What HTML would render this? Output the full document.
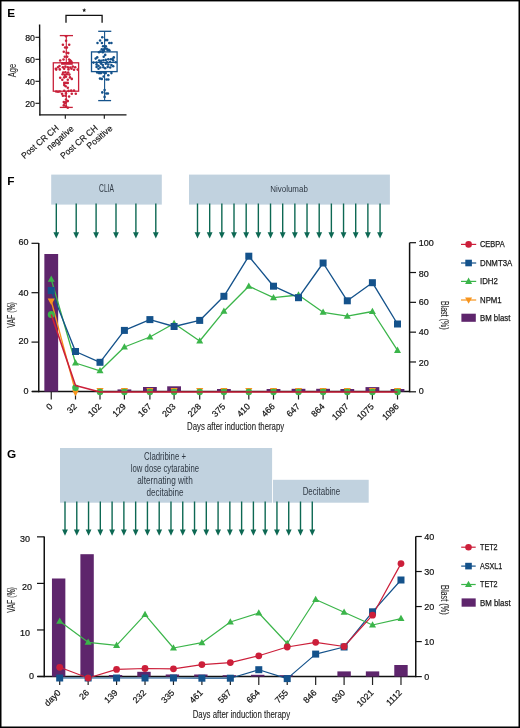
<!DOCTYPE html>
<html><head><meta charset="utf-8"><style>
html,body{margin:0;padding:0;background:#fff;}
svg{display:block;will-change:transform;}
text{font-family:"Liberation Sans", sans-serif;}
</style></head><body>
<svg width="520" height="728" viewBox="0 0 520 728">
<rect x="0" y="0" width="520" height="728" fill="#fff"/>
<text x="7.30" y="17.10" font-size="11.8" text-anchor="start" fill="#000" font-weight="bold" >E</text>
<path d="M66.0,22.7 V15.4 H102.1 V22.7" fill="none" stroke="#111" stroke-width="1.3"/>
<polygon points="84.20,8.10 84.76,9.44 86.20,9.55 85.10,10.49 85.43,11.90 84.20,11.14 82.97,11.90 83.30,10.49 82.20,9.55 83.64,9.44" fill="#111"/>
<line x1="39.60" y1="24.50" x2="39.90" y2="115.50" stroke="#111" stroke-width="1.4" />
<line x1="39.20" y1="114.90" x2="126.50" y2="114.90" stroke="#111" stroke-width="1.4" />
<line x1="35.40" y1="37.30" x2="39.60" y2="37.30" stroke="#111" stroke-width="1.1" />
<text x="35.00" y="40.50" font-size="8.8" text-anchor="end" fill="#111" stroke="#111" stroke-width="0.2" >80</text>
<line x1="35.40" y1="59.30" x2="39.60" y2="59.30" stroke="#111" stroke-width="1.1" />
<text x="35.00" y="62.50" font-size="8.8" text-anchor="end" fill="#111" stroke="#111" stroke-width="0.2" >60</text>
<line x1="35.40" y1="81.30" x2="39.60" y2="81.30" stroke="#111" stroke-width="1.1" />
<text x="35.00" y="84.50" font-size="8.8" text-anchor="end" fill="#111" stroke="#111" stroke-width="0.2" >40</text>
<line x1="35.40" y1="103.30" x2="39.60" y2="103.30" stroke="#111" stroke-width="1.1" />
<text x="35.00" y="106.50" font-size="8.8" text-anchor="end" fill="#111" stroke="#111" stroke-width="0.2" >20</text>
<text x="0.00" y="0.00" font-size="10.5" text-anchor="middle" fill="#2a2a2a" stroke="#2a2a2a" stroke-width="0.12" textLength="13.40" lengthAdjust="spacingAndGlyphs" transform="translate(16.3,70.6) rotate(-90)">Age</text>
<line x1="65.30" y1="114.90" x2="65.30" y2="118.80" stroke="#111" stroke-width="1.1" />
<line x1="104.30" y1="114.90" x2="104.30" y2="118.80" stroke="#111" stroke-width="1.1" />
<rect x="53.3" y="62.8" width="25.3" height="28.4" fill="none" stroke="#c8203a" stroke-width="1.3"/>
<line x1="66.30" y1="35.60" x2="66.30" y2="62.80" stroke="#c8203a" stroke-width="1.1" />
<line x1="66.30" y1="91.20" x2="66.30" y2="107.40" stroke="#c8203a" stroke-width="1.1" />
<line x1="59.80" y1="35.60" x2="73.00" y2="35.60" stroke="#c8203a" stroke-width="1.3" />
<line x1="59.80" y1="107.40" x2="72.80" y2="107.40" stroke="#c8203a" stroke-width="1.3" />
<rect x="91.5" y="51.9" width="25.6" height="19.7" fill="none" stroke="#14528b" stroke-width="1.3"/>
<line x1="104.60" y1="31.10" x2="104.60" y2="51.90" stroke="#14528b" stroke-width="1.1" />
<line x1="104.60" y1="71.60" x2="104.60" y2="100.60" stroke="#14528b" stroke-width="1.1" />
<line x1="98.20" y1="31.30" x2="111.30" y2="31.30" stroke="#14528b" stroke-width="1.3" />
<line x1="98.20" y1="100.60" x2="111.10" y2="100.60" stroke="#14528b" stroke-width="1.3" />
<line x1="91.50" y1="62.40" x2="117.10" y2="62.40" stroke="#14528b" stroke-width="1.2" />
<circle cx="66.10" cy="36.20" r="1.28" fill="#c8203a"/>
<circle cx="66.10" cy="40.80" r="1.28" fill="#c8203a"/>
<circle cx="62.90" cy="44.80" r="1.28" fill="#c8203a"/>
<circle cx="69.20" cy="44.80" r="1.28" fill="#c8203a"/>
<circle cx="65.10" cy="47.50" r="1.28" fill="#c8203a"/>
<circle cx="66.90" cy="47.50" r="1.28" fill="#c8203a"/>
<circle cx="63.80" cy="51.80" r="1.28" fill="#c8203a"/>
<circle cx="66.60" cy="52.80" r="1.28" fill="#c8203a"/>
<circle cx="68.30" cy="53.10" r="1.28" fill="#c8203a"/>
<circle cx="64.80" cy="56.80" r="1.28" fill="#c8203a"/>
<circle cx="67.20" cy="56.80" r="1.28" fill="#c8203a"/>
<circle cx="60.20" cy="60.50" r="1.28" fill="#c8203a"/>
<circle cx="63.50" cy="59.50" r="1.28" fill="#c8203a"/>
<circle cx="69.10" cy="59.50" r="1.28" fill="#c8203a"/>
<circle cx="70.20" cy="60.60" r="1.28" fill="#c8203a"/>
<circle cx="71.20" cy="61.60" r="1.28" fill="#c8203a"/>
<circle cx="69.80" cy="61.80" r="1.28" fill="#c8203a"/>
<circle cx="58.00" cy="67.20" r="1.28" fill="#c8203a"/>
<circle cx="59.50" cy="66.00" r="1.28" fill="#c8203a"/>
<circle cx="55.80" cy="68.80" r="1.28" fill="#c8203a"/>
<circle cx="62.90" cy="67.30" r="1.28" fill="#c8203a"/>
<circle cx="65.40" cy="66.60" r="1.28" fill="#c8203a"/>
<circle cx="67.80" cy="67.30" r="1.28" fill="#c8203a"/>
<circle cx="70.30" cy="67.50" r="1.28" fill="#c8203a"/>
<circle cx="72.80" cy="66.60" r="1.28" fill="#c8203a"/>
<circle cx="75.20" cy="67.20" r="1.28" fill="#c8203a"/>
<circle cx="56.20" cy="69.60" r="1.28" fill="#c8203a"/>
<circle cx="59.80" cy="69.40" r="1.28" fill="#c8203a"/>
<circle cx="64.20" cy="68.80" r="1.28" fill="#c8203a"/>
<circle cx="68.50" cy="69.40" r="1.28" fill="#c8203a"/>
<circle cx="71.50" cy="68.80" r="1.28" fill="#c8203a"/>
<circle cx="74.00" cy="69.80" r="1.28" fill="#c8203a"/>
<circle cx="77.70" cy="69.60" r="1.28" fill="#c8203a"/>
<circle cx="63.20" cy="72.50" r="1.28" fill="#c8203a"/>
<circle cx="65.40" cy="72.20" r="1.28" fill="#c8203a"/>
<circle cx="68.20" cy="72.50" r="1.28" fill="#c8203a"/>
<circle cx="62.60" cy="74.30" r="1.28" fill="#c8203a"/>
<circle cx="64.80" cy="74.90" r="1.28" fill="#c8203a"/>
<circle cx="66.90" cy="74.30" r="1.28" fill="#c8203a"/>
<circle cx="69.40" cy="74.60" r="1.28" fill="#c8203a"/>
<circle cx="60.20" cy="77.70" r="1.28" fill="#c8203a"/>
<circle cx="64.20" cy="77.40" r="1.28" fill="#c8203a"/>
<circle cx="66.00" cy="76.80" r="1.28" fill="#c8203a"/>
<circle cx="70.00" cy="77.40" r="1.28" fill="#c8203a"/>
<circle cx="71.80" cy="78.90" r="1.28" fill="#c8203a"/>
<circle cx="62.30" cy="79.80" r="1.28" fill="#c8203a"/>
<circle cx="67.80" cy="79.80" r="1.28" fill="#c8203a"/>
<circle cx="64.20" cy="82.90" r="1.28" fill="#c8203a"/>
<circle cx="66.00" cy="82.90" r="1.28" fill="#c8203a"/>
<circle cx="67.80" cy="82.90" r="1.28" fill="#c8203a"/>
<circle cx="64.20" cy="85.10" r="1.28" fill="#c8203a"/>
<circle cx="65.70" cy="86.30" r="1.28" fill="#c8203a"/>
<circle cx="67.80" cy="87.80" r="1.28" fill="#c8203a"/>
<circle cx="56.20" cy="91.50" r="1.28" fill="#c8203a"/>
<circle cx="58.00" cy="91.80" r="1.28" fill="#c8203a"/>
<circle cx="59.80" cy="91.50" r="1.28" fill="#c8203a"/>
<circle cx="64.20" cy="90.90" r="1.28" fill="#c8203a"/>
<circle cx="68.50" cy="90.90" r="1.28" fill="#c8203a"/>
<circle cx="71.20" cy="90.60" r="1.28" fill="#c8203a"/>
<circle cx="74.00" cy="90.60" r="1.28" fill="#c8203a"/>
<circle cx="62.00" cy="93.70" r="1.28" fill="#c8203a"/>
<circle cx="66.00" cy="93.40" r="1.28" fill="#c8203a"/>
<circle cx="71.80" cy="93.70" r="1.28" fill="#c8203a"/>
<circle cx="75.80" cy="93.70" r="1.28" fill="#c8203a"/>
<circle cx="62.90" cy="95.80" r="1.28" fill="#c8203a"/>
<circle cx="65.40" cy="95.80" r="1.28" fill="#c8203a"/>
<circle cx="69.10" cy="96.50" r="1.28" fill="#c8203a"/>
<circle cx="66.00" cy="99.50" r="1.28" fill="#c8203a"/>
<circle cx="67.80" cy="101.10" r="1.28" fill="#c8203a"/>
<circle cx="63.80" cy="102.00" r="1.28" fill="#c8203a"/>
<circle cx="65.70" cy="102.30" r="1.28" fill="#c8203a"/>
<circle cx="64.80" cy="103.50" r="1.28" fill="#c8203a"/>
<circle cx="63.80" cy="105.40" r="1.28" fill="#c8203a"/>
<circle cx="66.00" cy="106.30" r="1.28" fill="#c8203a"/>
<circle cx="67.80" cy="107.80" r="1.28" fill="#c8203a"/>
<rect x="61.1" y="62" width="11.7" height="2.8" fill="#c8203a"/>
<polygon points="68.3,62 70.2,58.9 73.2,62.4" fill="#c8203a"/>
<circle cx="102.30" cy="37.20" r="1.28" fill="#14528b"/>
<circle cx="100.10" cy="40.50" r="1.28" fill="#14528b"/>
<circle cx="105.80" cy="40.10" r="1.28" fill="#14528b"/>
<circle cx="107.20" cy="40.10" r="1.28" fill="#14528b"/>
<circle cx="97.50" cy="43.00" r="1.28" fill="#14528b"/>
<circle cx="101.90" cy="43.00" r="1.28" fill="#14528b"/>
<circle cx="109.30" cy="43.00" r="1.28" fill="#14528b"/>
<circle cx="111.40" cy="43.00" r="1.28" fill="#14528b"/>
<circle cx="103.10" cy="46.20" r="1.28" fill="#14528b"/>
<circle cx="105.80" cy="46.20" r="1.28" fill="#14528b"/>
<circle cx="101.80" cy="49.30" r="1.28" fill="#14528b"/>
<circle cx="104.10" cy="49.30" r="1.28" fill="#14528b"/>
<circle cx="106.80" cy="48.80" r="1.28" fill="#14528b"/>
<circle cx="108.60" cy="49.80" r="1.28" fill="#14528b"/>
<circle cx="100.30" cy="51.50" r="1.28" fill="#14528b"/>
<circle cx="102.80" cy="50.40" r="1.28" fill="#14528b"/>
<circle cx="105.20" cy="48.20" r="1.28" fill="#14528b"/>
<circle cx="107.70" cy="50.30" r="1.28" fill="#14528b"/>
<circle cx="109.50" cy="50.60" r="1.28" fill="#14528b"/>
<circle cx="99.00" cy="52.20" r="1.28" fill="#14528b"/>
<circle cx="102.80" cy="52.20" r="1.28" fill="#14528b"/>
<circle cx="105.20" cy="54.90" r="1.28" fill="#14528b"/>
<circle cx="103.70" cy="56.80" r="1.28" fill="#14528b"/>
<circle cx="97.20" cy="57.40" r="1.28" fill="#14528b"/>
<circle cx="95.70" cy="58.60" r="1.28" fill="#14528b"/>
<circle cx="113.80" cy="57.40" r="1.28" fill="#14528b"/>
<circle cx="112.60" cy="58.90" r="1.28" fill="#14528b"/>
<circle cx="99.10" cy="60.50" r="1.28" fill="#14528b"/>
<circle cx="101.20" cy="60.80" r="1.28" fill="#14528b"/>
<circle cx="103.40" cy="60.20" r="1.28" fill="#14528b"/>
<circle cx="105.80" cy="59.90" r="1.28" fill="#14528b"/>
<circle cx="108.30" cy="59.20" r="1.28" fill="#14528b"/>
<circle cx="110.80" cy="59.20" r="1.28" fill="#14528b"/>
<circle cx="113.20" cy="60.50" r="1.28" fill="#14528b"/>
<circle cx="93.50" cy="62.60" r="1.28" fill="#14528b"/>
<circle cx="115.70" cy="62.30" r="1.28" fill="#14528b"/>
<circle cx="96.60" cy="62.60" r="1.28" fill="#14528b"/>
<circle cx="100.00" cy="62.20" r="1.28" fill="#14528b"/>
<circle cx="107.00" cy="62.40" r="1.28" fill="#14528b"/>
<circle cx="110.00" cy="62.10" r="1.28" fill="#14528b"/>
<circle cx="96.60" cy="64.50" r="1.28" fill="#14528b"/>
<circle cx="98.50" cy="65.70" r="1.28" fill="#14528b"/>
<circle cx="101.20" cy="63.80" r="1.28" fill="#14528b"/>
<circle cx="102.80" cy="65.10" r="1.28" fill="#14528b"/>
<circle cx="105.80" cy="63.80" r="1.28" fill="#14528b"/>
<circle cx="108.30" cy="64.50" r="1.28" fill="#14528b"/>
<circle cx="111.40" cy="65.10" r="1.28" fill="#14528b"/>
<circle cx="113.20" cy="66.30" r="1.28" fill="#14528b"/>
<circle cx="110.20" cy="67.50" r="1.28" fill="#14528b"/>
<circle cx="107.70" cy="66.90" r="1.28" fill="#14528b"/>
<circle cx="105.20" cy="68.20" r="1.28" fill="#14528b"/>
<circle cx="103.40" cy="67.30" r="1.28" fill="#14528b"/>
<circle cx="100.30" cy="67.50" r="1.28" fill="#14528b"/>
<circle cx="98.50" cy="68.80" r="1.28" fill="#14528b"/>
<circle cx="96.60" cy="66.90" r="1.28" fill="#14528b"/>
<circle cx="97.20" cy="72.50" r="1.28" fill="#14528b"/>
<circle cx="99.10" cy="73.10" r="1.28" fill="#14528b"/>
<circle cx="100.90" cy="73.10" r="1.28" fill="#14528b"/>
<circle cx="103.40" cy="72.50" r="1.28" fill="#14528b"/>
<circle cx="105.80" cy="73.10" r="1.28" fill="#14528b"/>
<circle cx="108.30" cy="75.20" r="1.28" fill="#14528b"/>
<circle cx="111.40" cy="73.10" r="1.28" fill="#14528b"/>
<circle cx="103.70" cy="76.50" r="1.28" fill="#14528b"/>
<circle cx="100.00" cy="78.60" r="1.28" fill="#14528b"/>
<circle cx="101.80" cy="78.90" r="1.28" fill="#14528b"/>
<circle cx="106.50" cy="79.50" r="1.28" fill="#14528b"/>
<circle cx="108.30" cy="79.50" r="1.28" fill="#14528b"/>
<circle cx="104.60" cy="90.10" r="1.28" fill="#14528b"/>
<circle cx="102.30" cy="92.40" r="1.28" fill="#14528b"/>
<circle cx="106.30" cy="93.50" r="1.28" fill="#14528b"/>
<circle cx="107.90" cy="93.50" r="1.28" fill="#14528b"/>
<circle cx="104.60" cy="96.90" r="1.28" fill="#14528b"/>
<text x="0" y="0" font-size="8.8" text-anchor="end" fill="#111" transform="translate(59.30,129.00) rotate(-41)" stroke="#111" stroke-width="0.14" textLength="46.20" lengthAdjust="spacingAndGlyphs">Post CR CH</text>
<text x="0" y="0" font-size="8.8" text-anchor="end" fill="#111" transform="translate(74.40,129.60) rotate(-41)" stroke="#111" stroke-width="0.14" textLength="32.60" lengthAdjust="spacingAndGlyphs">negative</text>
<text x="0" y="0" font-size="8.8" text-anchor="end" fill="#111" transform="translate(98.30,129.00) rotate(-41)" stroke="#111" stroke-width="0.14" textLength="46.20" lengthAdjust="spacingAndGlyphs">Post CR CH</text>
<text x="0" y="0" font-size="8.8" text-anchor="end" fill="#111" transform="translate(113.10,129.20) rotate(-41)" stroke="#111" stroke-width="0.14">Positive</text>
<text x="7.30" y="184.90" font-size="11.8" text-anchor="start" fill="#000" font-weight="bold" >F</text>
<rect x="51.2" y="174.6" width="110.6" height="30" fill="#c1d2df"/>
<rect x="189" y="174.6" width="200.9" height="30" fill="#c1d2df"/>
<text x="106.50" y="192.00" font-size="10.6" text-anchor="middle" fill="#2f3944" textLength="14.80" lengthAdjust="spacingAndGlyphs" >CLIA</text>
<text x="289.05" y="191.60" font-size="9.9" text-anchor="middle" fill="#2f3944" textLength="37.50" lengthAdjust="spacingAndGlyphs" >Nivolumab</text>
<line x1="56.30" y1="203.50" x2="56.30" y2="234.50" stroke="#0d6853" stroke-width="1.4" />
<polygon points="53.40,232.20 59.20,232.20 56.30,238.50" fill="#0d6853"/>
<line x1="76.20" y1="203.50" x2="76.20" y2="234.50" stroke="#0d6853" stroke-width="1.4" />
<polygon points="73.30,232.20 79.10,232.20 76.20,238.50" fill="#0d6853"/>
<line x1="96.10" y1="203.50" x2="96.10" y2="234.50" stroke="#0d6853" stroke-width="1.4" />
<polygon points="93.20,232.20 99.00,232.20 96.10,238.50" fill="#0d6853"/>
<line x1="116.00" y1="203.50" x2="116.00" y2="234.50" stroke="#0d6853" stroke-width="1.4" />
<polygon points="113.10,232.20 118.90,232.20 116.00,238.50" fill="#0d6853"/>
<line x1="135.90" y1="203.50" x2="135.90" y2="234.50" stroke="#0d6853" stroke-width="1.4" />
<polygon points="133.00,232.20 138.80,232.20 135.90,238.50" fill="#0d6853"/>
<line x1="155.80" y1="203.50" x2="155.80" y2="234.50" stroke="#0d6853" stroke-width="1.4" />
<polygon points="152.90,232.20 158.70,232.20 155.80,238.50" fill="#0d6853"/>
<line x1="197.50" y1="203.50" x2="197.50" y2="234.50" stroke="#0d6853" stroke-width="1.4" />
<polygon points="194.60,232.20 200.40,232.20 197.50,238.50" fill="#0d6853"/>
<line x1="209.67" y1="203.50" x2="209.67" y2="234.50" stroke="#0d6853" stroke-width="1.4" />
<polygon points="206.77,232.20 212.57,232.20 209.67,238.50" fill="#0d6853"/>
<line x1="221.84" y1="203.50" x2="221.84" y2="234.50" stroke="#0d6853" stroke-width="1.4" />
<polygon points="218.94,232.20 224.74,232.20 221.84,238.50" fill="#0d6853"/>
<line x1="234.01" y1="203.50" x2="234.01" y2="234.50" stroke="#0d6853" stroke-width="1.4" />
<polygon points="231.11,232.20 236.91,232.20 234.01,238.50" fill="#0d6853"/>
<line x1="246.18" y1="203.50" x2="246.18" y2="234.50" stroke="#0d6853" stroke-width="1.4" />
<polygon points="243.28,232.20 249.08,232.20 246.18,238.50" fill="#0d6853"/>
<line x1="258.35" y1="203.50" x2="258.35" y2="234.50" stroke="#0d6853" stroke-width="1.4" />
<polygon points="255.45,232.20 261.25,232.20 258.35,238.50" fill="#0d6853"/>
<line x1="270.52" y1="203.50" x2="270.52" y2="234.50" stroke="#0d6853" stroke-width="1.4" />
<polygon points="267.62,232.20 273.42,232.20 270.52,238.50" fill="#0d6853"/>
<line x1="282.69" y1="203.50" x2="282.69" y2="234.50" stroke="#0d6853" stroke-width="1.4" />
<polygon points="279.79,232.20 285.59,232.20 282.69,238.50" fill="#0d6853"/>
<line x1="294.86" y1="203.50" x2="294.86" y2="234.50" stroke="#0d6853" stroke-width="1.4" />
<polygon points="291.96,232.20 297.76,232.20 294.86,238.50" fill="#0d6853"/>
<line x1="307.03" y1="203.50" x2="307.03" y2="234.50" stroke="#0d6853" stroke-width="1.4" />
<polygon points="304.13,232.20 309.93,232.20 307.03,238.50" fill="#0d6853"/>
<line x1="319.20" y1="203.50" x2="319.20" y2="234.50" stroke="#0d6853" stroke-width="1.4" />
<polygon points="316.30,232.20 322.10,232.20 319.20,238.50" fill="#0d6853"/>
<line x1="331.37" y1="203.50" x2="331.37" y2="234.50" stroke="#0d6853" stroke-width="1.4" />
<polygon points="328.47,232.20 334.27,232.20 331.37,238.50" fill="#0d6853"/>
<line x1="343.54" y1="203.50" x2="343.54" y2="234.50" stroke="#0d6853" stroke-width="1.4" />
<polygon points="340.64,232.20 346.44,232.20 343.54,238.50" fill="#0d6853"/>
<line x1="355.71" y1="203.50" x2="355.71" y2="234.50" stroke="#0d6853" stroke-width="1.4" />
<polygon points="352.81,232.20 358.61,232.20 355.71,238.50" fill="#0d6853"/>
<line x1="367.88" y1="203.50" x2="367.88" y2="234.50" stroke="#0d6853" stroke-width="1.4" />
<polygon points="364.98,232.20 370.78,232.20 367.88,238.50" fill="#0d6853"/>
<line x1="380.05" y1="203.50" x2="380.05" y2="234.50" stroke="#0d6853" stroke-width="1.4" />
<polygon points="377.15,232.20 382.95,232.20 380.05,238.50" fill="#0d6853"/>
<line x1="38.75" y1="242.90" x2="38.75" y2="392.30" stroke="#111" stroke-width="1.5" />
<line x1="32.00" y1="391.60" x2="409.60" y2="391.60" stroke="#111" stroke-width="1.5" />
<line x1="409.60" y1="242.70" x2="409.60" y2="392.30" stroke="#111" stroke-width="1.5" />
<line x1="31.50" y1="243.30" x2="38.75" y2="243.30" stroke="#111" stroke-width="1.2" />
<text x="28.40" y="245.10" font-size="9" text-anchor="end" fill="#111" stroke="#111" stroke-width="0.2" >60</text>
<line x1="31.50" y1="292.70" x2="38.75" y2="292.70" stroke="#111" stroke-width="1.2" />
<text x="28.40" y="295.70" font-size="9" text-anchor="end" fill="#111" stroke="#111" stroke-width="0.2" >40</text>
<line x1="31.50" y1="342.10" x2="38.75" y2="342.10" stroke="#111" stroke-width="1.2" />
<text x="28.40" y="343.80" font-size="9" text-anchor="end" fill="#111" stroke="#111" stroke-width="0.2" >20</text>
<line x1="31.50" y1="391.50" x2="38.75" y2="391.50" stroke="#111" stroke-width="1.2" />
<text x="28.40" y="393.80" font-size="9" text-anchor="end" fill="#111" stroke="#111" stroke-width="0.2" >0</text>
<line x1="409.60" y1="242.70" x2="416.00" y2="242.70" stroke="#111" stroke-width="1.2" />
<text x="418.80" y="245.60" font-size="9" text-anchor="start" fill="#111" stroke="#111" stroke-width="0.2" >100</text>
<line x1="409.60" y1="272.52" x2="416.00" y2="272.52" stroke="#111" stroke-width="1.2" />
<text x="418.80" y="276.80" font-size="9" text-anchor="start" fill="#111" stroke="#111" stroke-width="0.2" >80</text>
<line x1="409.60" y1="302.34" x2="416.00" y2="302.34" stroke="#111" stroke-width="1.2" />
<text x="418.80" y="305.30" font-size="9" text-anchor="start" fill="#111" stroke="#111" stroke-width="0.2" >60</text>
<line x1="409.60" y1="332.16" x2="416.00" y2="332.16" stroke="#111" stroke-width="1.2" />
<text x="418.80" y="335.00" font-size="9" text-anchor="start" fill="#111" stroke="#111" stroke-width="0.2" >40</text>
<line x1="409.60" y1="361.98" x2="416.00" y2="361.98" stroke="#111" stroke-width="1.2" />
<text x="418.80" y="366.10" font-size="9" text-anchor="start" fill="#111" stroke="#111" stroke-width="0.2" >20</text>
<line x1="409.60" y1="391.80" x2="416.00" y2="391.80" stroke="#111" stroke-width="1.2" />
<text x="418.80" y="394.40" font-size="9" text-anchor="start" fill="#111" stroke="#111" stroke-width="0.2" >0</text>
<text x="0.00" y="0.00" font-size="10" text-anchor="middle" fill="#2a2a2a" stroke="#2a2a2a" stroke-width="0.12" textLength="25.60" lengthAdjust="spacingAndGlyphs" transform="translate(15.2,314.9) rotate(-90)">VAF (%)</text>
<text x="0.00" y="0.00" font-size="10.2" text-anchor="middle" fill="#2a2a2a" stroke="#2a2a2a" stroke-width="0.12" textLength="28.60" lengthAdjust="spacingAndGlyphs" transform="translate(441.1,315.2) rotate(90)">Blast (%)</text>
<line x1="51.25" y1="392.00" x2="51.25" y2="399.50" stroke="#222" stroke-width="1.2" />
<text x="0" y="0" font-size="8.8" text-anchor="end" fill="#111" transform="translate(53.25,407.00) rotate(-45)" stroke="#111" stroke-width="0.2">0</text>
<line x1="75.50" y1="392.00" x2="75.50" y2="399.50" stroke="#222" stroke-width="1.2" />
<text x="0" y="0" font-size="8.8" text-anchor="end" fill="#111" transform="translate(77.50,407.00) rotate(-45)" stroke="#111" stroke-width="0.2">32</text>
<line x1="100.00" y1="392.00" x2="100.00" y2="399.50" stroke="#222" stroke-width="1.2" />
<text x="0" y="0" font-size="8.8" text-anchor="end" fill="#111" transform="translate(102.00,407.00) rotate(-45)" stroke="#111" stroke-width="0.2">102</text>
<line x1="124.40" y1="392.00" x2="124.40" y2="399.50" stroke="#222" stroke-width="1.2" />
<text x="0" y="0" font-size="8.8" text-anchor="end" fill="#111" transform="translate(126.40,407.00) rotate(-45)" stroke="#111" stroke-width="0.2">129</text>
<line x1="149.90" y1="392.00" x2="149.90" y2="399.50" stroke="#222" stroke-width="1.2" />
<text x="0" y="0" font-size="8.8" text-anchor="end" fill="#111" transform="translate(151.90,407.00) rotate(-45)" stroke="#111" stroke-width="0.2">167</text>
<line x1="174.10" y1="392.00" x2="174.10" y2="399.50" stroke="#222" stroke-width="1.2" />
<text x="0" y="0" font-size="8.8" text-anchor="end" fill="#111" transform="translate(176.10,407.00) rotate(-45)" stroke="#111" stroke-width="0.2">203</text>
<line x1="199.70" y1="392.00" x2="199.70" y2="399.50" stroke="#222" stroke-width="1.2" />
<text x="0" y="0" font-size="8.8" text-anchor="end" fill="#111" transform="translate(201.70,407.00) rotate(-45)" stroke="#111" stroke-width="0.2">228</text>
<line x1="223.90" y1="392.00" x2="223.90" y2="399.50" stroke="#222" stroke-width="1.2" />
<text x="0" y="0" font-size="8.8" text-anchor="end" fill="#111" transform="translate(225.90,407.00) rotate(-45)" stroke="#111" stroke-width="0.2">375</text>
<line x1="248.80" y1="392.00" x2="248.80" y2="399.50" stroke="#222" stroke-width="1.2" />
<text x="0" y="0" font-size="8.8" text-anchor="end" fill="#111" transform="translate(250.80,407.00) rotate(-45)" stroke="#111" stroke-width="0.2">410</text>
<line x1="273.50" y1="392.00" x2="273.50" y2="399.50" stroke="#222" stroke-width="1.2" />
<text x="0" y="0" font-size="8.8" text-anchor="end" fill="#111" transform="translate(275.50,407.00) rotate(-45)" stroke="#111" stroke-width="0.2">466</text>
<line x1="298.50" y1="392.00" x2="298.50" y2="399.50" stroke="#222" stroke-width="1.2" />
<text x="0" y="0" font-size="8.8" text-anchor="end" fill="#111" transform="translate(300.50,407.00) rotate(-45)" stroke="#111" stroke-width="0.2">647</text>
<line x1="323.10" y1="392.00" x2="323.10" y2="399.50" stroke="#222" stroke-width="1.2" />
<text x="0" y="0" font-size="8.8" text-anchor="end" fill="#111" transform="translate(325.10,407.00) rotate(-45)" stroke="#111" stroke-width="0.2">864</text>
<line x1="347.30" y1="392.00" x2="347.30" y2="399.50" stroke="#222" stroke-width="1.2" />
<text x="0" y="0" font-size="8.8" text-anchor="end" fill="#111" transform="translate(349.30,407.00) rotate(-45)" stroke="#111" stroke-width="0.2">1007</text>
<line x1="372.40" y1="392.00" x2="372.40" y2="399.50" stroke="#222" stroke-width="1.2" />
<text x="0" y="0" font-size="8.8" text-anchor="end" fill="#111" transform="translate(374.40,407.00) rotate(-45)" stroke="#111" stroke-width="0.2">1075</text>
<line x1="397.50" y1="392.00" x2="397.50" y2="399.50" stroke="#222" stroke-width="1.2" />
<text x="0" y="0" font-size="8.8" text-anchor="end" fill="#111" transform="translate(399.50,407.00) rotate(-45)" stroke="#111" stroke-width="0.2">1096</text>
<text x="235.60" y="429.80" font-size="10" text-anchor="middle" fill="#222" stroke="#222" stroke-width="0.1" textLength="97.20" lengthAdjust="spacingAndGlyphs" >Days after induction therapy</text>
<rect x="44.35" y="254.00" width="13.8" height="137.60" fill="#5e256c"/>
<rect x="117.50" y="389.40" width="13.8" height="2.20" fill="#5e256c"/>
<rect x="143.00" y="387.00" width="13.8" height="4.60" fill="#5e256c"/>
<rect x="167.20" y="386.30" width="13.8" height="5.30" fill="#5e256c"/>
<rect x="217.00" y="389.00" width="13.8" height="2.60" fill="#5e256c"/>
<rect x="266.60" y="389.00" width="13.8" height="2.60" fill="#5e256c"/>
<rect x="291.60" y="388.80" width="13.8" height="2.80" fill="#5e256c"/>
<rect x="316.20" y="388.80" width="13.8" height="2.80" fill="#5e256c"/>
<rect x="340.40" y="389.00" width="13.8" height="2.60" fill="#5e256c"/>
<rect x="365.50" y="387.10" width="13.8" height="4.50" fill="#5e256c"/>
<rect x="390.60" y="389.00" width="13.8" height="2.60" fill="#5e256c"/>
<polygon points="100.00,394.59 96.40,388.11 103.60,388.11" fill="#f7941d"/>
<circle cx="100.00" cy="392.00" r="3.2" fill="#3bb54a"/>
<polygon points="124.40,394.59 120.80,388.11 128.00,388.11" fill="#f7941d"/>
<circle cx="124.40" cy="392.00" r="3.2" fill="#3bb54a"/>
<polygon points="149.90,394.59 146.30,388.11 153.50,388.11" fill="#f7941d"/>
<circle cx="149.90" cy="392.00" r="3.2" fill="#3bb54a"/>
<polygon points="174.10,394.59 170.50,388.11 177.70,388.11" fill="#f7941d"/>
<circle cx="174.10" cy="392.00" r="3.2" fill="#3bb54a"/>
<polygon points="199.70,394.59 196.10,388.11 203.30,388.11" fill="#f7941d"/>
<circle cx="199.70" cy="392.00" r="3.2" fill="#3bb54a"/>
<polygon points="223.90,394.59 220.30,388.11 227.50,388.11" fill="#f7941d"/>
<circle cx="223.90" cy="392.00" r="3.2" fill="#3bb54a"/>
<polygon points="248.80,394.59 245.20,388.11 252.40,388.11" fill="#f7941d"/>
<circle cx="248.80" cy="392.00" r="3.2" fill="#3bb54a"/>
<polygon points="273.50,394.59 269.90,388.11 277.10,388.11" fill="#f7941d"/>
<circle cx="273.50" cy="392.00" r="3.2" fill="#3bb54a"/>
<polygon points="298.50,394.59 294.90,388.11 302.10,388.11" fill="#f7941d"/>
<circle cx="298.50" cy="392.00" r="3.2" fill="#3bb54a"/>
<polygon points="323.10,394.59 319.50,388.11 326.70,388.11" fill="#f7941d"/>
<circle cx="323.10" cy="392.00" r="3.2" fill="#3bb54a"/>
<polygon points="347.30,394.59 343.70,388.11 350.90,388.11" fill="#f7941d"/>
<circle cx="347.30" cy="392.00" r="3.2" fill="#3bb54a"/>
<polygon points="372.40,394.59 368.80,388.11 376.00,388.11" fill="#f7941d"/>
<circle cx="372.40" cy="392.00" r="3.2" fill="#3bb54a"/>
<polygon points="397.50,394.59 393.90,388.11 401.10,388.11" fill="#f7941d"/>
<circle cx="397.50" cy="392.00" r="3.2" fill="#3bb54a"/>
<polyline points="51.25,279.30 75.50,363.00 100.00,370.80 124.40,347.00 149.90,337.00 174.10,323.50 199.70,341.00 223.90,311.30 248.80,286.20 273.50,297.70 298.50,295.00 323.10,312.30 347.30,316.20 372.40,311.50 397.50,350.40" fill="none" stroke="#3bb54a" stroke-width="1.3" stroke-linejoin="round"/>
<polyline points="51.25,290.50 75.50,351.50 100.00,362.30 124.40,330.40 149.90,319.60 174.10,326.50 199.70,320.40 223.90,296.30 248.80,256.20 273.50,286.20 298.50,297.70 323.10,263.00 347.30,300.80 372.40,282.70 397.50,324.00" fill="none" stroke="#14528b" stroke-width="1.35" stroke-linejoin="round"/>
<polyline points="51.25,301.00 75.50,391.50" fill="none" stroke="#f7941d" stroke-width="1.3" stroke-linejoin="round"/>
<polygon points="75.50,396.27 72.10,390.15 78.90,390.15" fill="#f7941d"/>
<circle cx="75.50" cy="387.70" r="3.3" fill="#3bb54a"/>
<circle cx="51.25" cy="314.60" r="3.5" fill="#3bb54a"/>
<polyline points="51.25,314.60 75.50,385.60 100.00,392.00 397.50,392.00" fill="none" stroke="#cc1f3a" stroke-width="1.6" stroke-linejoin="round"/>
<polygon points="51.25,275.52 47.75,281.82 54.75,281.82" fill="#3bb54a"/>
<polygon points="75.50,359.22 72.00,365.52 79.00,365.52" fill="#3bb54a"/>
<polygon points="100.00,367.02 96.50,373.32 103.50,373.32" fill="#3bb54a"/>
<polygon points="124.40,343.22 120.90,349.52 127.90,349.52" fill="#3bb54a"/>
<polygon points="149.90,333.22 146.40,339.52 153.40,339.52" fill="#3bb54a"/>
<polygon points="174.10,319.72 170.60,326.02 177.60,326.02" fill="#3bb54a"/>
<polygon points="199.70,337.22 196.20,343.52 203.20,343.52" fill="#3bb54a"/>
<polygon points="223.90,307.52 220.40,313.82 227.40,313.82" fill="#3bb54a"/>
<polygon points="248.80,282.42 245.30,288.72 252.30,288.72" fill="#3bb54a"/>
<polygon points="273.50,293.92 270.00,300.22 277.00,300.22" fill="#3bb54a"/>
<polygon points="298.50,291.22 295.00,297.52 302.00,297.52" fill="#3bb54a"/>
<polygon points="323.10,308.52 319.60,314.82 326.60,314.82" fill="#3bb54a"/>
<polygon points="347.30,312.42 343.80,318.72 350.80,318.72" fill="#3bb54a"/>
<polygon points="372.40,307.72 368.90,314.02 375.90,314.02" fill="#3bb54a"/>
<polygon points="397.50,346.62 394.00,352.92 401.00,352.92" fill="#3bb54a"/>
<rect x="47.75" y="287.00" width="7" height="7" fill="#14528b"/>
<rect x="72.00" y="348.00" width="7" height="7" fill="#14528b"/>
<rect x="96.50" y="358.80" width="7" height="7" fill="#14528b"/>
<rect x="120.90" y="326.90" width="7" height="7" fill="#14528b"/>
<rect x="146.40" y="316.10" width="7" height="7" fill="#14528b"/>
<rect x="170.60" y="323.00" width="7" height="7" fill="#14528b"/>
<rect x="196.20" y="316.90" width="7" height="7" fill="#14528b"/>
<rect x="220.40" y="292.80" width="7" height="7" fill="#14528b"/>
<rect x="245.30" y="252.70" width="7" height="7" fill="#14528b"/>
<rect x="270.00" y="282.70" width="7" height="7" fill="#14528b"/>
<rect x="295.00" y="294.20" width="7" height="7" fill="#14528b"/>
<rect x="319.60" y="259.50" width="7" height="7" fill="#14528b"/>
<rect x="343.80" y="297.30" width="7" height="7" fill="#14528b"/>
<rect x="368.90" y="279.20" width="7" height="7" fill="#14528b"/>
<rect x="394.00" y="320.50" width="7" height="7" fill="#14528b"/>
<polygon points="51.25,304.89 47.65,298.41 54.85,298.41" fill="#f7941d"/>
<line x1="461.00" y1="244.40" x2="476.20" y2="244.40" stroke="#cc1f3a" stroke-width="1.2" />
<circle cx="468.60" cy="244.40" r="3.3" fill="#cc1f3a"/>
<text x="480.00" y="247.00" font-size="8.6" text-anchor="start" fill="#1a1a1a" stroke="#1a1a1a" stroke-width="0.25" textLength="24.60" lengthAdjust="spacingAndGlyphs" >CEBPA</text>
<line x1="461.00" y1="263.00" x2="476.20" y2="263.00" stroke="#14528b" stroke-width="1.2" />
<rect x="465.30" y="259.70" width="6.6" height="6.6" fill="#14528b"/>
<text x="480.00" y="265.60" font-size="8.6" text-anchor="start" fill="#1a1a1a" stroke="#1a1a1a" stroke-width="0.25" textLength="32.30" lengthAdjust="spacingAndGlyphs" >DNMT3A</text>
<line x1="461.00" y1="281.40" x2="476.20" y2="281.40" stroke="#3bb54a" stroke-width="1.2" />
<polygon points="468.60,277.62 465.10,283.92 472.10,283.92" fill="#3bb54a"/>
<text x="480.00" y="284.00" font-size="8.6" text-anchor="start" fill="#1a1a1a" stroke="#1a1a1a" stroke-width="0.25" textLength="17.90" lengthAdjust="spacingAndGlyphs" >IDH2</text>
<line x1="461.00" y1="300.00" x2="476.20" y2="300.00" stroke="#f7941d" stroke-width="1.2" />
<polygon points="468.60,303.78 465.10,297.48 472.10,297.48" fill="#f7941d"/>
<text x="480.00" y="302.60" font-size="8.6" text-anchor="start" fill="#1a1a1a" stroke="#1a1a1a" stroke-width="0.25" textLength="21.70" lengthAdjust="spacingAndGlyphs" >NPM1</text>
<rect x="461.4" y="313.7" width="14.4" height="8.1" fill="#5e256c"/>
<text x="480.00" y="321.30" font-size="8.6" text-anchor="start" fill="#1a1a1a" stroke="#1a1a1a" stroke-width="0.25" textLength="30.30" lengthAdjust="spacingAndGlyphs" >BM blast</text>
<text x="7.00" y="457.70" font-size="11.8" text-anchor="start" fill="#000" font-weight="bold" >G</text>
<rect x="60" y="448" width="212.1" height="54.7" fill="#c1d2df"/>
<rect x="273" y="479.8" width="95.7" height="22.9" fill="#c1d2df"/>
<text x="165.00" y="459.80" font-size="10" text-anchor="middle" fill="#2f3944" textLength="42.00" lengthAdjust="spacingAndGlyphs" >Cladribine +</text>
<text x="165.00" y="471.77" font-size="10" text-anchor="middle" fill="#2f3944" textLength="68.30" lengthAdjust="spacingAndGlyphs" >low dose cytarabine</text>
<text x="165.00" y="483.74" font-size="10" text-anchor="middle" fill="#2f3944" textLength="55.50" lengthAdjust="spacingAndGlyphs" >alternating with</text>
<text x="165.00" y="495.71" font-size="10" text-anchor="middle" fill="#2f3944" textLength="37.00" lengthAdjust="spacingAndGlyphs" >decitabine</text>
<text x="321.40" y="494.50" font-size="10" text-anchor="middle" fill="#2f3944" textLength="37.50" lengthAdjust="spacingAndGlyphs" >Decitabine</text>
<line x1="65.00" y1="501.50" x2="65.00" y2="531.80" stroke="#0d6853" stroke-width="1.4" />
<polygon points="62.10,529.50 67.90,529.50 65.00,535.80" fill="#0d6853"/>
<line x1="76.78" y1="501.50" x2="76.78" y2="531.80" stroke="#0d6853" stroke-width="1.4" />
<polygon points="73.88,529.50 79.68,529.50 76.78,535.80" fill="#0d6853"/>
<line x1="88.55" y1="501.50" x2="88.55" y2="531.80" stroke="#0d6853" stroke-width="1.4" />
<polygon points="85.65,529.50 91.45,529.50 88.55,535.80" fill="#0d6853"/>
<line x1="100.33" y1="501.50" x2="100.33" y2="531.80" stroke="#0d6853" stroke-width="1.4" />
<polygon points="97.42,529.50 103.23,529.50 100.33,535.80" fill="#0d6853"/>
<line x1="112.10" y1="501.50" x2="112.10" y2="531.80" stroke="#0d6853" stroke-width="1.4" />
<polygon points="109.20,529.50 115.00,529.50 112.10,535.80" fill="#0d6853"/>
<line x1="123.88" y1="501.50" x2="123.88" y2="531.80" stroke="#0d6853" stroke-width="1.4" />
<polygon points="120.97,529.50 126.78,529.50 123.88,535.80" fill="#0d6853"/>
<line x1="135.65" y1="501.50" x2="135.65" y2="531.80" stroke="#0d6853" stroke-width="1.4" />
<polygon points="132.75,529.50 138.55,529.50 135.65,535.80" fill="#0d6853"/>
<line x1="147.43" y1="501.50" x2="147.43" y2="531.80" stroke="#0d6853" stroke-width="1.4" />
<polygon points="144.53,529.50 150.33,529.50 147.43,535.80" fill="#0d6853"/>
<line x1="159.20" y1="501.50" x2="159.20" y2="531.80" stroke="#0d6853" stroke-width="1.4" />
<polygon points="156.30,529.50 162.10,529.50 159.20,535.80" fill="#0d6853"/>
<line x1="170.98" y1="501.50" x2="170.98" y2="531.80" stroke="#0d6853" stroke-width="1.4" />
<polygon points="168.08,529.50 173.88,529.50 170.98,535.80" fill="#0d6853"/>
<line x1="182.75" y1="501.50" x2="182.75" y2="531.80" stroke="#0d6853" stroke-width="1.4" />
<polygon points="179.85,529.50 185.65,529.50 182.75,535.80" fill="#0d6853"/>
<line x1="194.53" y1="501.50" x2="194.53" y2="531.80" stroke="#0d6853" stroke-width="1.4" />
<polygon points="191.62,529.50 197.43,529.50 194.53,535.80" fill="#0d6853"/>
<line x1="206.30" y1="501.50" x2="206.30" y2="531.80" stroke="#0d6853" stroke-width="1.4" />
<polygon points="203.40,529.50 209.20,529.50 206.30,535.80" fill="#0d6853"/>
<line x1="218.08" y1="501.50" x2="218.08" y2="531.80" stroke="#0d6853" stroke-width="1.4" />
<polygon points="215.18,529.50 220.98,529.50 218.08,535.80" fill="#0d6853"/>
<line x1="229.85" y1="501.50" x2="229.85" y2="531.80" stroke="#0d6853" stroke-width="1.4" />
<polygon points="226.95,529.50 232.75,529.50 229.85,535.80" fill="#0d6853"/>
<line x1="241.62" y1="501.50" x2="241.62" y2="531.80" stroke="#0d6853" stroke-width="1.4" />
<polygon points="238.72,529.50 244.53,529.50 241.62,535.80" fill="#0d6853"/>
<line x1="253.40" y1="501.50" x2="253.40" y2="531.80" stroke="#0d6853" stroke-width="1.4" />
<polygon points="250.50,529.50 256.30,529.50 253.40,535.80" fill="#0d6853"/>
<line x1="265.18" y1="501.50" x2="265.18" y2="531.80" stroke="#0d6853" stroke-width="1.4" />
<polygon points="262.28,529.50 268.07,529.50 265.18,535.80" fill="#0d6853"/>
<line x1="276.95" y1="501.50" x2="276.95" y2="531.80" stroke="#0d6853" stroke-width="1.4" />
<polygon points="274.05,529.50 279.85,529.50 276.95,535.80" fill="#0d6853"/>
<line x1="288.73" y1="501.50" x2="288.73" y2="531.80" stroke="#0d6853" stroke-width="1.4" />
<polygon points="285.83,529.50 291.62,529.50 288.73,535.80" fill="#0d6853"/>
<line x1="300.50" y1="501.50" x2="300.50" y2="531.80" stroke="#0d6853" stroke-width="1.4" />
<polygon points="297.60,529.50 303.40,529.50 300.50,535.80" fill="#0d6853"/>
<line x1="312.27" y1="501.50" x2="312.27" y2="531.80" stroke="#0d6853" stroke-width="1.4" />
<polygon points="309.38,529.50 315.17,529.50 312.27,535.80" fill="#0d6853"/>
<line x1="44.25" y1="536.50" x2="44.25" y2="677.30" stroke="#111" stroke-width="1.5" />
<line x1="37.60" y1="676.60" x2="415.70" y2="676.60" stroke="#111" stroke-width="1.5" />
<line x1="415.75" y1="536.50" x2="415.75" y2="677.30" stroke="#111" stroke-width="1.5" />
<line x1="37.00" y1="536.85" x2="44.20" y2="536.85" stroke="#111" stroke-width="1.2" />
<text x="29.90" y="541.80" font-size="9" text-anchor="end" fill="#111" stroke="#111" stroke-width="0.2" >30</text>
<line x1="37.00" y1="583.40" x2="44.20" y2="583.40" stroke="#111" stroke-width="1.2" />
<text x="31.90" y="589.70" font-size="9" text-anchor="end" fill="#111" stroke="#111" stroke-width="0.2" >20</text>
<line x1="37.00" y1="629.95" x2="44.20" y2="629.95" stroke="#111" stroke-width="1.2" />
<text x="30.10" y="635.80" font-size="9" text-anchor="end" fill="#111" stroke="#111" stroke-width="0.2" >10</text>
<line x1="37.00" y1="676.50" x2="44.20" y2="676.50" stroke="#111" stroke-width="1.2" />
<text x="34.10" y="678.70" font-size="9" text-anchor="end" fill="#111" stroke="#111" stroke-width="0.2" >0</text>
<line x1="415.70" y1="536.50" x2="421.80" y2="536.50" stroke="#111" stroke-width="1.2" />
<text x="424.20" y="540.30" font-size="9" text-anchor="start" fill="#111" stroke="#111" stroke-width="0.2" >40</text>
<line x1="415.70" y1="571.52" x2="421.80" y2="571.52" stroke="#111" stroke-width="1.2" />
<text x="424.20" y="575.00" font-size="9" text-anchor="start" fill="#111" stroke="#111" stroke-width="0.2" >30</text>
<line x1="415.70" y1="606.55" x2="421.80" y2="606.55" stroke="#111" stroke-width="1.2" />
<text x="424.20" y="609.70" font-size="9" text-anchor="start" fill="#111" stroke="#111" stroke-width="0.2" >20</text>
<line x1="415.70" y1="641.58" x2="421.80" y2="641.58" stroke="#111" stroke-width="1.2" />
<text x="424.20" y="644.90" font-size="9" text-anchor="start" fill="#111" stroke="#111" stroke-width="0.2" >10</text>
<line x1="415.70" y1="676.60" x2="421.80" y2="676.60" stroke="#111" stroke-width="1.2" />
<text x="424.20" y="679.80" font-size="9" text-anchor="start" fill="#111" stroke="#111" stroke-width="0.2" >0</text>
<text x="0.00" y="0.00" font-size="10" text-anchor="middle" fill="#2a2a2a" stroke="#2a2a2a" stroke-width="0.12" textLength="25.60" lengthAdjust="spacingAndGlyphs" transform="translate(15.2,599.9) rotate(-90)">VAF (%)</text>
<text x="0.00" y="0.00" font-size="10.2" text-anchor="middle" fill="#2a2a2a" stroke="#2a2a2a" stroke-width="0.12" textLength="29.50" lengthAdjust="spacingAndGlyphs" transform="translate(441.1,599.8) rotate(90)">Blast (%)</text>
<line x1="59.70" y1="677.00" x2="59.70" y2="685.00" stroke="#222" stroke-width="1.2" />
<text x="0" y="0" font-size="8.8" text-anchor="end" fill="#111" transform="translate(61.30,693.30) rotate(-45)" stroke="#111" stroke-width="0.2">day0</text>
<line x1="88.14" y1="677.00" x2="88.14" y2="685.00" stroke="#222" stroke-width="1.2" />
<text x="0" y="0" font-size="8.8" text-anchor="end" fill="#111" transform="translate(89.74,693.30) rotate(-45)" stroke="#111" stroke-width="0.2">26</text>
<line x1="116.58" y1="677.00" x2="116.58" y2="685.00" stroke="#222" stroke-width="1.2" />
<text x="0" y="0" font-size="8.8" text-anchor="end" fill="#111" transform="translate(118.18,693.30) rotate(-45)" stroke="#111" stroke-width="0.2">139</text>
<line x1="145.02" y1="677.00" x2="145.02" y2="685.00" stroke="#222" stroke-width="1.2" />
<text x="0" y="0" font-size="8.8" text-anchor="end" fill="#111" transform="translate(146.62,693.30) rotate(-45)" stroke="#111" stroke-width="0.2">232</text>
<line x1="173.46" y1="677.00" x2="173.46" y2="685.00" stroke="#222" stroke-width="1.2" />
<text x="0" y="0" font-size="8.8" text-anchor="end" fill="#111" transform="translate(175.06,693.30) rotate(-45)" stroke="#111" stroke-width="0.2">335</text>
<line x1="201.90" y1="677.00" x2="201.90" y2="685.00" stroke="#222" stroke-width="1.2" />
<text x="0" y="0" font-size="8.8" text-anchor="end" fill="#111" transform="translate(203.50,693.30) rotate(-45)" stroke="#111" stroke-width="0.2">461</text>
<line x1="230.34" y1="677.00" x2="230.34" y2="685.00" stroke="#222" stroke-width="1.2" />
<text x="0" y="0" font-size="8.8" text-anchor="end" fill="#111" transform="translate(231.94,693.30) rotate(-45)" stroke="#111" stroke-width="0.2">587</text>
<line x1="258.78" y1="677.00" x2="258.78" y2="685.00" stroke="#222" stroke-width="1.2" />
<text x="0" y="0" font-size="8.8" text-anchor="end" fill="#111" transform="translate(260.38,693.30) rotate(-45)" stroke="#111" stroke-width="0.2">664</text>
<line x1="287.22" y1="677.00" x2="287.22" y2="685.00" stroke="#222" stroke-width="1.2" />
<text x="0" y="0" font-size="8.8" text-anchor="end" fill="#111" transform="translate(288.82,693.30) rotate(-45)" stroke="#111" stroke-width="0.2">755</text>
<line x1="315.66" y1="677.00" x2="315.66" y2="685.00" stroke="#222" stroke-width="1.2" />
<text x="0" y="0" font-size="8.8" text-anchor="end" fill="#111" transform="translate(317.26,693.30) rotate(-45)" stroke="#111" stroke-width="0.2">846</text>
<line x1="344.10" y1="677.00" x2="344.10" y2="685.00" stroke="#222" stroke-width="1.2" />
<text x="0" y="0" font-size="8.8" text-anchor="end" fill="#111" transform="translate(345.70,693.30) rotate(-45)" stroke="#111" stroke-width="0.2">930</text>
<line x1="372.54" y1="677.00" x2="372.54" y2="685.00" stroke="#222" stroke-width="1.2" />
<text x="0" y="0" font-size="8.8" text-anchor="end" fill="#111" transform="translate(374.14,693.30) rotate(-45)" stroke="#111" stroke-width="0.2">1021</text>
<line x1="400.98" y1="677.00" x2="400.98" y2="685.00" stroke="#222" stroke-width="1.2" />
<text x="0" y="0" font-size="8.8" text-anchor="end" fill="#111" transform="translate(402.58,693.30) rotate(-45)" stroke="#111" stroke-width="0.2">1112</text>
<text x="241.40" y="718.40" font-size="10" text-anchor="middle" fill="#222" stroke="#222" stroke-width="0.1" textLength="97.40" lengthAdjust="spacingAndGlyphs" >Days after induction therapy</text>
<rect x="51.95" y="578.50" width="13.4" height="98.10" fill="#5e256c"/>
<rect x="80.39" y="554.20" width="13.4" height="122.40" fill="#5e256c"/>
<rect x="108.83" y="675.00" width="13.4" height="1.60" fill="#5e256c"/>
<rect x="137.27" y="671.80" width="13.4" height="4.80" fill="#5e256c"/>
<rect x="165.71" y="674.50" width="13.4" height="2.10" fill="#5e256c"/>
<rect x="194.15" y="674.50" width="13.4" height="2.10" fill="#5e256c"/>
<rect x="222.59" y="675.20" width="13.4" height="1.40" fill="#5e256c"/>
<rect x="251.03" y="674.80" width="13.4" height="1.80" fill="#5e256c"/>
<rect x="279.47" y="675.20" width="13.4" height="1.40" fill="#5e256c"/>
<rect x="337.40" y="671.40" width="13.4" height="5.20" fill="#5e256c"/>
<rect x="365.84" y="671.40" width="13.4" height="5.20" fill="#5e256c"/>
<rect x="394.28" y="665.00" width="13.4" height="11.60" fill="#5e256c"/>
<polyline points="59.70,678.00 88.14,678.00 116.58,678.00 145.02,678.00 173.46,678.00 201.90,678.20 230.34,678.20 258.78,669.70 287.22,678.60 315.66,654.10 344.10,647.00 372.54,611.80 400.98,580.00" fill="none" stroke="#14528b" stroke-width="1.2" stroke-linejoin="round"/>
<polyline points="59.70,621.20 88.14,642.30 116.58,645.40 145.02,614.60 173.46,648.00 201.90,642.70 230.34,622.00 258.78,613.00 287.22,643.50 315.66,599.50 344.10,612.20 372.54,625.00 400.98,618.60" fill="none" stroke="#3bb54a" stroke-width="1.2" stroke-linejoin="round"/>
<polyline points="59.70,667.30 88.14,678.00 116.58,669.40 145.02,668.50 173.46,668.80 201.90,664.60 230.34,662.60 258.78,655.80 287.22,647.00 315.66,642.30 344.10,646.50 372.54,615.20 400.98,563.60" fill="none" stroke="#cc1f3a" stroke-width="1.2" stroke-linejoin="round"/>
<rect x="56.20" y="674.50" width="7" height="7" fill="#14528b"/>
<rect x="84.64" y="674.50" width="7" height="7" fill="#14528b"/>
<rect x="113.08" y="674.50" width="7" height="7" fill="#14528b"/>
<rect x="141.52" y="674.50" width="7" height="7" fill="#14528b"/>
<rect x="169.96" y="674.50" width="7" height="7" fill="#14528b"/>
<rect x="198.40" y="674.70" width="7" height="7" fill="#14528b"/>
<rect x="226.84" y="674.70" width="7" height="7" fill="#14528b"/>
<rect x="255.28" y="666.20" width="7" height="7" fill="#14528b"/>
<rect x="283.72" y="675.10" width="7" height="7" fill="#14528b"/>
<rect x="312.16" y="650.60" width="7" height="7" fill="#14528b"/>
<rect x="340.60" y="643.50" width="7" height="7" fill="#14528b"/>
<rect x="369.04" y="608.30" width="7" height="7" fill="#14528b"/>
<rect x="397.48" y="576.50" width="7" height="7" fill="#14528b"/>
<polygon points="59.70,617.42 56.20,623.72 63.20,623.72" fill="#3bb54a"/>
<polygon points="88.14,638.52 84.64,644.82 91.64,644.82" fill="#3bb54a"/>
<polygon points="116.58,641.62 113.08,647.92 120.08,647.92" fill="#3bb54a"/>
<polygon points="145.02,610.82 141.52,617.12 148.52,617.12" fill="#3bb54a"/>
<polygon points="173.46,644.22 169.96,650.52 176.96,650.52" fill="#3bb54a"/>
<polygon points="201.90,638.92 198.40,645.22 205.40,645.22" fill="#3bb54a"/>
<polygon points="230.34,618.22 226.84,624.52 233.84,624.52" fill="#3bb54a"/>
<polygon points="258.78,609.22 255.28,615.52 262.28,615.52" fill="#3bb54a"/>
<polygon points="287.22,639.72 283.72,646.02 290.72,646.02" fill="#3bb54a"/>
<polygon points="315.66,595.72 312.16,602.02 319.16,602.02" fill="#3bb54a"/>
<polygon points="344.10,608.42 340.60,614.72 347.60,614.72" fill="#3bb54a"/>
<polygon points="372.54,621.22 369.04,627.52 376.04,627.52" fill="#3bb54a"/>
<polygon points="400.98,614.82 397.48,621.12 404.48,621.12" fill="#3bb54a"/>
<circle cx="59.70" cy="667.30" r="3.4" fill="#cc1f3a"/>
<circle cx="88.14" cy="678.00" r="3.4" fill="#cc1f3a"/>
<circle cx="116.58" cy="669.40" r="3.4" fill="#cc1f3a"/>
<circle cx="145.02" cy="668.50" r="3.4" fill="#cc1f3a"/>
<circle cx="173.46" cy="668.80" r="3.4" fill="#cc1f3a"/>
<circle cx="201.90" cy="664.60" r="3.4" fill="#cc1f3a"/>
<circle cx="230.34" cy="662.60" r="3.4" fill="#cc1f3a"/>
<circle cx="258.78" cy="655.80" r="3.4" fill="#cc1f3a"/>
<circle cx="287.22" cy="647.00" r="3.4" fill="#cc1f3a"/>
<circle cx="315.66" cy="642.30" r="3.4" fill="#cc1f3a"/>
<circle cx="344.10" cy="646.50" r="3.4" fill="#cc1f3a"/>
<circle cx="372.54" cy="615.20" r="3.4" fill="#cc1f3a"/>
<circle cx="400.98" cy="563.60" r="3.4" fill="#cc1f3a"/>
<line x1="461.20" y1="547.20" x2="475.70" y2="547.20" stroke="#cc1f3a" stroke-width="1.2" />
<circle cx="468.50" cy="547.20" r="3.3" fill="#cc1f3a"/>
<text x="480.00" y="550.10" font-size="8.6" text-anchor="start" fill="#1a1a1a" stroke="#1a1a1a" stroke-width="0.25" textLength="17.60" lengthAdjust="spacingAndGlyphs" >TET2</text>
<line x1="461.20" y1="566.10" x2="475.70" y2="566.10" stroke="#14528b" stroke-width="1.2" />
<rect x="465.20" y="562.80" width="6.6" height="6.6" fill="#14528b"/>
<text x="480.00" y="569.00" font-size="8.6" text-anchor="start" fill="#1a1a1a" stroke="#1a1a1a" stroke-width="0.25" textLength="22.30" lengthAdjust="spacingAndGlyphs" >ASXL1</text>
<line x1="461.20" y1="584.50" x2="475.70" y2="584.50" stroke="#3bb54a" stroke-width="1.2" />
<polygon points="468.50,580.72 465.00,587.02 472.00,587.02" fill="#3bb54a"/>
<text x="480.00" y="587.40" font-size="8.6" text-anchor="start" fill="#1a1a1a" stroke="#1a1a1a" stroke-width="0.25" textLength="17.60" lengthAdjust="spacingAndGlyphs" >TET2</text>
<rect x="461.6" y="598.4" width="14.1" height="8.3" fill="#5e256c"/>
<text x="480.00" y="606.30" font-size="8.6" text-anchor="start" fill="#1a1a1a" stroke="#1a1a1a" stroke-width="0.25" textLength="30.60" lengthAdjust="spacingAndGlyphs" >BM blast</text>
<rect x="0" y="0" width="520" height="1.42" fill="#000"/>
<rect x="0" y="0" width="1.5" height="728" fill="#000"/>
<rect x="518.5" y="0" width="1.5" height="728" fill="#000"/>
<rect x="0" y="726.5" width="520" height="1.5" fill="#000"/>
</svg>
</body></html>
